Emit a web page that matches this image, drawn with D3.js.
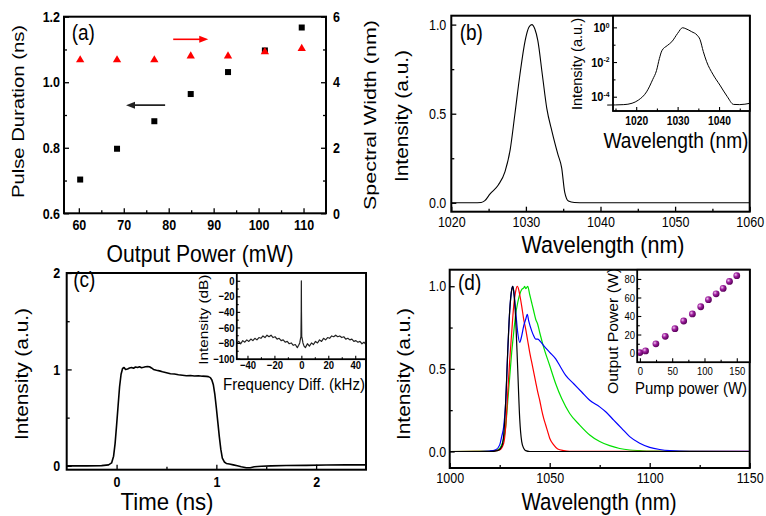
<!DOCTYPE html>
<html>
<head>
<meta charset="utf-8">
<script src="https://cdn.jsdelivr.net/npm/d3@7"></script>
<style>
body { margin: 0; background: #fff; }
svg { display: block; font-family: Arial, "Liberation Sans", sans-serif; }
</style>
</head>
<body>
<svg id="fig" width="766" height="516"></svg>
<script>
// the scanned figure is a bit stretched vertically, text too
const S = 1.18;

// (a) pulse duration / spectral width vs output power
const powerA = [60.3, 68.5, 76.8, 84.9, 93.2, 101.4, 109.6];
const durationA = [0.703, 0.797, 0.881, 0.964, 1.031, 1.097, 1.167];
const widthA = [4.68, 4.68, 4.68, 4.8, 4.8, 4.93, 5.03];
// arrows: [x0, x1, y]
const arrowRed = [81, 88.8, 5.31];
const arrowBlack = [79.2, 70.5, 0.93];

// (b) spectrum, linear and log (inset)
const specB = [[1020,0],[1023,0],[1024,0.002],[1024.5,0.012],[1025.2,0.05],[1026.3,0.10],[1027.2,0.175],
  [1027.9,0.30],[1028.5,0.49],[1029.2,0.72],[1029.9,0.91],[1030.4,0.985],[1030.8,1.0],[1031.2,0.975],
  [1031.6,0.91],[1032.2,0.72],[1032.8,0.53],[1033.5,0.40],[1034.3,0.27],[1034.8,0.195],[1035.2,0.06],
  [1035.7,0.01],[1036.5,0.002],[1038,0],[1060,0]];
const specBlog = [[1013,3.3e-5],[1017,3.5e-5],[1019,4.2e-5],[1020.5,6.3e-5],[1022.5,1.9e-4],[1024,1e-3],
  [1024.9,3.2e-3],[1025.6,0.016],[1026.2,0.045],[1027.5,0.089],[1028.6,0.148],[1030,0.45],[1031.2,0.95],
  [1032,0.83],[1033.4,0.56],[1034.7,0.355],[1035.4,0.2],[1036.2,0.04],[1037,0.0105],[1038.5,2e-3],
  [1040.2,4.7e-4],[1042,1e-4],[1043.5,3.6e-5],[1045,3.5e-5],[1047.5,4.2e-5]];

// (c) pulse shape and beat spectrum (inset)
const pulseC = [[-0.5,0],[-0.3,0],[-0.15,0.002],[-0.08,0.01],[-0.05,0.03],[-0.03,0.1],[-0.015,0.23],[0,0.42],
  [0.015,0.62],[0.03,0.82],[0.045,0.95],[0.06,1.01],[0.075,1.02],[0.09,1.0],[0.11,1.005],[0.13,1.015],
  [0.15,1.02],[0.17,1.012],[0.19,1.025],[0.21,1.02],[0.23,1.028],[0.25,1.018],[0.27,1.022],[0.29,1.027],
  [0.31,1.03],[0.33,1.028],[0.35,1.015],[0.37,1.0],[0.4,0.992],[0.43,0.985],[0.46,0.975],[0.5,0.965],
  [0.54,0.955],[0.58,0.952],[0.62,0.945],[0.66,0.94],[0.7,0.935],[0.74,0.937],[0.78,0.932],[0.82,0.935],
  [0.86,0.93],[0.9,0.928],[0.92,0.925],[0.94,0.915],[0.955,0.89],[0.97,0.84],[0.985,0.74],[1.0,0.6],
  [1.015,0.45],[1.03,0.3],[1.045,0.17],[1.06,0.08],[1.08,0.04],[1.1,0.025],[1.13,0.02],[1.17,0.01],
  [1.21,0],[1.25,-0.01],[1.3,-0.02],[1.34,-0.02],[1.38,-0.01],[1.45,-0.005],[1.55,0],[1.7,0.003],
  [1.9,0.005],[2.1,0.008],[2.3,0.01],[2.5,0.01]];
const beatC = [[-48,-80],[-46.5,-78],[-45,-81],[-43.5,-77],[-42,-79],[-40.5,-76],[-39,-78],[-37.5,-75],
  [-36,-77],[-34.5,-74],[-33,-76],[-31.5,-73],[-30,-74],[-28.5,-71],[-27,-73],[-25.5,-70],[-24,-72],
  [-22.5,-70],[-21,-73],[-19.5,-72],[-18,-75],[-16.5,-74],[-15,-77],[-13.5,-76],[-12,-79],[-10.5,-78],
  [-9,-81],[-7.5,-80],[-6,-83],[-4.5,-82],[-3,-86],[-2,-83],[-1.2,-80],[-0.6,-74],[-0.3,-72],[-0.1,-40],
  [0,0],[0.1,-40],[0.3,-72],[0.6,-74],[1.2,-80],[2,-84],[3,-86],[4.5,-81],[6,-84],[7.5,-80],[9,-82],
  [10.5,-78],[12,-80],[13.5,-76],[15,-78],[16.5,-74],[18,-76],[19.5,-73],[21,-74],[22.5,-71],[24,-72],
  [25.5,-70],[27,-72],[28.5,-71],[30,-73],[31.5,-72],[33,-75],[34.5,-74],[36,-76],[37.5,-75],[39,-78],
  [40.5,-77],[42,-79],[43.5,-78],[45,-81],[46.5,-79],[48,-82]];

// (d) amplified spectra and power curve (inset)
const specDblack = [[1000,0],[1020,0],[1024,0.005],[1026,0.03],[1027,0.1],[1028,0.3],[1029,0.6],[1030,0.85],
  [1031,0.98],[1031.5,1.0],[1032,0.97],[1033,0.8],[1034,0.5],[1035,0.2],[1036,0.06],[1037,0.02],
  [1038,0.005],[1040,0],[1150,0]];
const specDred = [[1000,0],[1020,0.001],[1025,0.01],[1027,0.05],[1028,0.15],[1029,0.35],[1030,0.55],
  [1031,0.72],[1032,0.88],[1033,0.97],[1033.8,1.0],[1034.5,0.98],[1035,0.95],[1036,0.88],[1037,0.8],
  [1038,0.74],[1039,0.67],[1040,0.6],[1041,0.54],[1042,0.48],[1043,0.42],[1044,0.36],[1045,0.31],
  [1046,0.25],[1047,0.2],[1048,0.16],[1049,0.12],[1050,0.08],[1052,0.04],[1054,0.015],[1057,0.005],
  [1060,0.001],[1150,0]];
const specDgreen = [[1000,0],[1020,0.002],[1024,0.01],[1026,0.04],[1028,0.15],[1029,0.3],[1030,0.45],
  [1031,0.6],[1032,0.72],[1033,0.83],[1034,0.9],[1035,0.95],[1036,0.98],[1037,0.99],[1037.5,1.0],
  [1038,0.985],[1039,1.0],[1040,0.95],[1041,0.9],[1042,0.85],[1043,0.8],[1044,0.77],[1045,0.72],
  [1047,0.63],[1050,0.52],[1053,0.41],[1056,0.32],[1060,0.23],[1065,0.16],[1070,0.1],[1075,0.06],
  [1080,0.035],[1085,0.018],[1090,0.009],[1095,0.005],[1100,0.002],[1150,0]];
const specDblue = [[1000,0],[1015,0],[1020,0.003],[1023,0.01],[1025,0.04],[1026,0.09],[1027,0.15],
  [1028,0.3],[1029,0.6],[1030,0.85],[1031,0.98],[1031.5,1.0],[1032,0.97],[1033,0.85],[1034,0.72],
  [1035,0.66],[1036,0.7],[1037,0.76],[1038,0.8],[1038.8,0.83],[1039.5,0.79],[1041,0.73],[1042,0.7],
  [1043,0.68],[1044,0.68],[1045,0.67],[1047,0.64],[1050,0.6],[1053,0.56],[1055,0.52],[1058,0.46],
  [1062,0.41],[1066,0.36],[1070,0.31],[1075,0.27],[1078,0.24],[1082,0.19],[1086,0.14],[1090,0.09],
  [1095,0.05],[1100,0.025],[1105,0.012],[1110,0.005],[1120,0.001],[1150,0]];
const pumpD = [0, 8.8, 24.8, 39.3, 54.3, 67.8, 81.3, 94.2, 106.1, 118, 128.9, 138.7, 150];
const outD = [0.5, 2.3, 9.9, 18.1, 26.3, 34.6, 42.2, 50, 57.6, 64, 69.8, 77.3, 83.5];

const svg = d3.select("#fig");

const defs = svg.append("defs");
const grad = defs.append("radialGradient").attr("id", "ball")
    .attr("cx", "35%").attr("cy", "35%").attr("r", "65%");
grad.append("stop").attr("offset", "0%").attr("stop-color", "#f0c8f0");
grad.append("stop").attr("offset", "45%").attr("stop-color", "#a020a0");
grad.append("stop").attr("offset", "100%").attr("stop-color", "#5a005a");

function stretch(sel) {
    sel.each(function() {
        let t = d3.select(this);
        let x = +t.attr("x") || 0, y = +t.attr("y") || 0;
        t.attr("x", null).attr("y", null)
            .attr("transform", `translate(${x},${y}) scale(1,${S})`);
    });
}

function plot(x, y, w, h) {
    let g = svg.append("g").attr("transform", `translate(${x},${y})`);
    g.w = w; g.h = h;
    return g;
}

function frame(g, sw, fill) {
    g.append("rect").attr("width", g.w).attr("height", g.h)
        .attr("fill", fill || "none").attr("stroke", "#000").attr("stroke-width", sw);
}

function addAxis(g, kind, scale, major, minor, fmt, o) {
    let make = {left: d3.axisLeft, right: d3.axisRight, bottom: d3.axisBottom}[kind];
    let tr = kind === "bottom" ? `translate(0,${g.h})` : kind === "right" ? `translate(${g.w},0)` : null;
    let gm = g.append("g").attr("transform", tr)
        .call(make(scale).tickValues(minor).tickSize(-o.minor).tickFormat(""));
    let ga = g.append("g").attr("transform", tr)
        .call(make(scale).tickValues(major).tickSize(-o.major).tickPadding(o.pad).tickFormat(fmt));
    [gm, ga].forEach(s => {
        s.attr("font-family", null).attr("font-size", null);
        s.select(".domain").remove();
        s.selectAll("line").attr("stroke", "#000").attr("stroke-width", o.tw || 1.3);
    });
    ga.selectAll("text").attr("fill", "#000").attr("font-size", o.fs)
        .attr("font-weight", o.bold ? "bold" : "normal");
    stretch(ga.selectAll("text"));
    return ga;
}

function hText(txt, cx, base, len, fs) {
    svg.append("text").attr("transform", `translate(${cx},${base}) scale(1,${S})`)
        .attr("text-anchor", "middle").attr("font-size", fs)
        .attr("textLength", len).attr("lengthAdjust", "spacingAndGlyphs").text(txt);
}

function vText(txt, cx, cy, len, fs) {
    svg.append("text").attr("transform", `translate(${cx},${cy}) rotate(-90)`)
        .attr("text-anchor", "middle").attr("dy", "0.3em").attr("font-size", fs)
        .attr("textLength", len).attr("lengthAdjust", "spacingAndGlyphs").text(txt);
}

function tag(txt, x, base) {
    svg.append("text").attr("transform", `translate(${x},${base}) scale(1,${S})`)
        .attr("font-size", 19).text(txt);
}

function curve(g, data, sx, sy, color, sw, smooth) {
    g.append("path").datum(data)
        .attr("fill", "none").attr("stroke", color).attr("stroke-width", sw)
        .attr("stroke-linejoin", "round")
        .attr("d", d3.line().x(d => sx(d[0])).y(d => sy(d[1]))
            .curve(smooth ? d3.curveMonotoneX : d3.curveLinear));
}

function arrow(g, x0, x1, y, color) {
    let dir = Math.sign(x1 - x0);
    g.append("line").attr("x1", x0).attr("x2", x1 - dir * 6).attr("y1", y).attr("y2", y)
        .attr("stroke", color).attr("stroke-width", 1.6);
    g.append("path")
        .attr("d", `M${x1},${y}L${x1 - dir * 9},${y - 3.5}L${x1 - dir * 9},${y + 3.5}Z`)
        .attr("fill", color);
}

// ---------- (a)
{
    let g = plot(64, 16.7, 262, 196.6);
    let x = d3.scaleLinear().domain([56.7, 115]).range([0, g.w]);
    let yl = d3.scaleLinear().domain([0.6, 1.2]).range([g.h, 0]);
    let yr = d3.scaleLinear().domain([0, 6]).range([g.h, 0]);
    let o = {major: 5, minor: 3, fs: 12.5, bold: true};
    addAxis(g, "bottom", x, [60, 70, 80, 90, 100, 110], [65, 75, 85, 95, 105], d3.format("d"), {...o, pad: 6});
    addAxis(g, "left", yl, [0.6, 0.8, 1.0, 1.2], [0.7, 0.9, 1.1], d3.format(".1f"), {...o, pad: 4});
    addAxis(g, "right", yr, [0, 2, 4, 6], [1, 3, 5], d3.format("d"), {...o, pad: 7});
    frame(g, 2);

    g.selectAll(".sq").data(powerA).enter().append("rect")
        .attr("x", (d) => x(d) - 3).attr("y", (d, i) => yl(durationA[i]) - 3)
        .attr("width", 6).attr("height", 6).attr("fill", "#000");
    g.selectAll(".tri").data(powerA).enter().append("path")
        .attr("transform", (d, i) => `translate(${x(d)},${yr(widthA[i])})`)
        .attr("d", d3.symbol(d3.symbolTriangle).size(30))
        .attr("fill", "#f00");

    arrow(g, x(arrowRed[0]), x(arrowRed[1]), yr(arrowRed[2]), "#f00");
    arrow(g, x(arrowBlack[0]), x(arrowBlack[1]), yl(arrowBlack[2]), "#222");

    tag("(a)", 71.7, 40.3);
    vText("Pulse Duration (ns)", 19, 111.5, 173, 17);
    vText("Spectral Width (nm)", 371, 115, 190, 17);
    hText("Output Power (mW)", 200, 262, 187, 21);
}

// ---------- (b)
{
    let g = plot(451.3, 15.7, 298.4, 196);
    let x = d3.scaleLinear().domain([1020, 1060]).range([0, g.w]);
    let y = d3.scaleLinear().domain([-0.05, 1.05]).range([g.h, 0]);
    let o = {major: 5, minor: 3, fs: 12.5};
    addAxis(g, "bottom", x, [1020, 1030, 1040, 1050, 1060], [1025, 1035, 1045, 1055], d3.format("d"), {...o, pad: 4.5});
    addAxis(g, "left", y, [0, 0.5, 1.0], [0.25, 0.75], d3.format(".1f"), {...o, pad: 5});
    curve(g, specB, x, y, "#000", 1.1, true);
    frame(g, 2);

    let gi = plot(613, 15.7, 136.7, 95.3);
    frame(gi, 1.5, "#fff");
    let xi = d3.scaleLinear().domain([1014.4, 1047.4]).range([0, gi.w]);
    let yi = d3.scaleLog().domain([1.5e-5, 4.7]).range([gi.h, 0]);
    let oi = {major: 4, minor: 2.5, fs: 10.3, bold: true, tw: 1.1};
    addAxis(gi, "bottom", xi, [1020, 1030, 1040], [1015, 1025, 1035, 1045], d3.format("d"), {...oi, pad: 5.5});
    let ly = addAxis(gi, "left", yi, [1, 1e-2, 1e-4], [1e-1, 1e-3], d => d, {...oi, fs: 11, pad: 3.5});
    ly.selectAll("text").each(function(d) {
        let t = d3.select(this).text(null);
        t.append("tspan").text("10");
        t.append("tspan").attr("dy", "-0.55em").attr("font-size", "0.62em")
            .text(String(Math.round(Math.log10(d))));
    });
    curve(gi, specBlog, xi, yi, "#000", 1, true);
    frame(gi, 1.5);

    tag("(b)", 459.7, 40.3);
    vText("Intensity (a.u.)", 403, 116, 132, 17.7);
    hText("Wavelength (nm)", 603, 253, 163, 21);
    vText("Intensity (a.u.)", 577.5, 64, 92, 15);
    hText("Wavelength (nm)", 676, 148, 145, 18);
}

// ---------- (c)
{
    let g = plot(66.7, 273, 299.3, 196.7);
    let x = d3.scaleLinear().domain([-0.5, 2.5]).range([0, g.w]);
    let y = d3.scaleLinear().domain([-0.04, 2.0]).range([g.h, 0]);
    let o = {major: 5, minor: 3, fs: 12.5, bold: true};
    addAxis(g, "bottom", x, [0, 1, 2], [0.5, 1.5], d3.format("d"), {...o, pad: 6.5});
    addAxis(g, "left", y, [0, 1, 2], [0.5, 1.5], d3.format("d"), {...o, pad: 6.5});
    curve(g, pulseC, x, y, "#000", 1.6, false);
    frame(g, 2);

    let gi = plot(236.7, 273, 129.3, 86.3);
    frame(gi, 1.5, "#fff");
    let xi = d3.scaleLinear().domain([-48, 48]).range([0, gi.w]);
    let yi = d3.scaleLinear().domain([-101, 10]).range([gi.h, 0]);
    let oi = {major: 3.5, minor: 2, fs: 9.5, bold: true, tw: 1.1};
    addAxis(gi, "bottom", xi, [-40, -20, 0, 20, 40], [-30, -10, 10, 30], d3.format("d"), {...oi, pad: 1.5});
    addAxis(gi, "left", yi, [0, -20, -40, -60, -80, -100], [-10, -30, -50, -70, -90], d3.format("d"), {...oi, pad: 2.2});
    curve(gi, beatC, xi, yi, "#222", 1.2, false);
    frame(gi, 1.5);

    tag("(c)", 73.3, 287);
    vText("Intensity (a.u.)", 22.5, 374, 132, 17.7);
    hText("Time (ns)", 167, 510, 93, 21);
    vText("Intensity (dB)", 204, 319.7, 90, 13);
    hText("Frequency Diff. (kHz)", 294, 389.5, 142, 14.5);
}

// ---------- (d)
{
    let g = plot(449.7, 269.7, 300, 198.3);
    let x = d3.scaleLinear().domain([1000, 1150]).range([0, g.w]);
    let y = d3.scaleLinear().domain([-0.1, 1.1]).range([g.h, 0]);
    let o = {major: 5, minor: 3, fs: 12.5};
    addAxis(g, "bottom", x, [1000, 1050, 1100, 1150], [1025, 1075, 1125], d3.format("d"), {...o, pad: 5});
    addAxis(g, "left", y, [0, 0.5, 1.0], [0.25, 0.75], d3.format(".1f"), {...o, pad: 3.5});
    curve(g, specDgreen, x, y, "#00e000", 1.2, true);
    curve(g, specDred, x, y, "#f00", 1.2, true);
    curve(g, specDblue, x, y, "#00f", 1.2, true);
    curve(g, specDblack, x, y, "#000", 1.2, true);
    frame(g, 2);

    let gi = plot(637.3, 269.7, 112.4, 92.6);
    frame(gi, 1.5, "#fff");
    let xi = d3.scaleLinear().domain([-4, 170]).range([0, gi.w]);
    let yi = d3.scaleLinear().domain([-10, 90]).range([gi.h, 0]);
    let oi = {major: 4, minor: 2.5, fs: 9.5, tw: 1.1};
    addAxis(gi, "bottom", xi, [0, 50, 100, 150], [25, 75, 125], d3.format("d"), {...oi, pad: 5});
    addAxis(gi, "left", yi, [0, 20, 40, 60, 80], [10, 30, 50, 70], d3.format("d"), {...oi, pad: 2.3});
    gi.selectAll(".ball").data(pumpD).enter().append("circle")
        .attr("cx", d => xi(d)).attr("cy", (d, i) => yi(outD[i])).attr("r", 3.4)
        .attr("fill", "url(#ball)");
    frame(gi, 1.5);

    tag("(d)", 458, 290);
    vText("Intensity (a.u.)", 404.7, 374, 132, 17.7);
    hText("Wavelength (nm)", 599, 509.7, 155, 21);
    vText("Output Power (W)", 613.7, 331, 126, 14);
    hText("Pump power (W)", 691, 393.5, 112, 13.5);
}
</script>
</body>
</html>
